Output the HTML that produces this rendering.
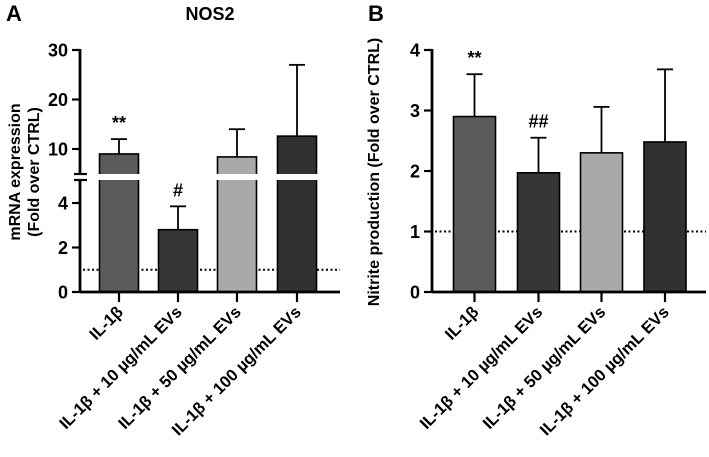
<!DOCTYPE html>
<html><head><meta charset="utf-8"><style>
body{margin:0;background:#fff}
svg{display:block}
svg text{font-family:"Liberation Sans",Arial,sans-serif;font-weight:700}
</style></head><body>
<svg id="c" width="709" height="457" viewBox="0 0 709 457"></svg>
<script>
const categories=["IL-1β","IL-1β + 10 µg/mL EVs","IL-1β + 50 µg/mL EVs","IL-1β + 100 µg/mL EVs"];
const colors=["#5b5b5b","#363636","#a9a9a9","#313131"];
const nosValues=[9,2.8,8.4,12.6];
const nosErrTop=[12,3.85,14,27];
const nosMarks=["**","#","",""];
const nitValues=[2.9,1.97,2.3,2.48];
const nitErrTop=[3.6,2.55,3.06,3.68];
const nitMarks=["**","##","",""];
const nosLowTicks=[0,2,4];
const nosHighTicks=[10,20,30];
const nitTicks=[0,1,2,3,4];
const NS="http://www.w3.org/2000/svg";
const svg=document.getElementById('c');
function el(t,a,p){const e=document.createElementNS(NS,t);for(const k in a)e.setAttribute(k,a[k]);(p||svg).appendChild(e);return e;}
function txt(s,a,p){a['font-weight']='bold';const e=el('text',a,p);e.textContent=s;return e;}
function yA(v){return v<=5?292-v*22.25:149-(v-10)*4.95;}
function yB(v){return 292-v*60.5;}
function panel(name,ax,axEnd,centers,bw,vals,errs,marks,yf){
  const g=el('g',{});
  
  
  vals.forEach((v,i)=>{
    const c=centers[i];
    const el1=el('line',{x1:c,x2:c,y1:yf(v),y2:yf(errs[i]),stroke:'#000','stroke-width':1.8},g);
    
    
    const cap=el('line',{x1:c-8,x2:c+8,y1:yf(errs[i]),y2:yf(errs[i]),stroke:'#000','stroke-width':1.8},g);
    
    
    const r=el('rect',{x:c-bw/2,y:yf(v),width:bw,height:292-yf(v),fill:colors[i],stroke:'#000','stroke-width':1.6},g);
    
    
    if(marks[i]){const m=txt(marks[i],{x:c,y:yf(errs[i])-10,'text-anchor':'middle','font-size':18},g);
      
      }
    const tk=el('line',{x1:c,x2:c,y1:292,y2:302,stroke:'#000','stroke-width':2.2},g);
    
    
    const lb=txt(categories[i],{x:c+5,y:313,'text-anchor':'end','font-size':16.5,transform:`rotate(-45 ${c+5} 313)`},g);
    
    
  });
  const d=el('line',{x1:ax+3,x2:axEnd,y1:yf(1),y2:yf(1),stroke:'#000','stroke-width':2,'stroke-dasharray':'2 2.5'},g);
  
  
  g.insertBefore(d,g.firstChild);
  const xa=el('line',{x1:ax,x2:axEnd,y1:292,y2:292,stroke:'#000','stroke-width':2.8},g);
  
  
  return g;
}
const cA=[119,178,237,297], cB=[474.5,538.5,601.5,665];
panel('panel-a-bars',80,340,cA,39,nosValues,nosErrTop,nosMarks,yA);
const br=el('rect',{x:95,y:174,width:228,height:6,fill:'#fff'});


panel('panel-b-bars',432,706,cB,42,nitValues,nitErrTop,nitMarks,yB);
const ya1=el('line',{x1:80,x2:80,y1:49,y2:174,stroke:'#000','stroke-width':2.8});


const ya2=el('line',{x1:80,x2:80,y1:180,y2:293,stroke:'#000','stroke-width':2.8});


[[74,174],[74,180]].forEach(p=>{const l=el('line',{x1:p[0],x2:87,y1:p[1],y2:p[1],stroke:'#000','stroke-width':2.2});
 
 });
nosLowTicks.concat(nosHighTicks).forEach(v=>{
  const y=yA(v);
  const t=el('line',{x1:72,x2:80,y1:y,y2:y,stroke:'#000','stroke-width':2.2});
  
  
  const l=txt(String(v),{x:68,y:y+6.5,'text-anchor':'end','font-size':18});
  
  
});
const yb=el('line',{x1:432,x2:432,y1:49,y2:293,stroke:'#000','stroke-width':2.8});


nitTicks.forEach(v=>{
  const y=yB(v);
  const t=el('line',{x1:424,x2:432,y1:y,y2:y,stroke:'#000','stroke-width':2.2});
  
  
  const l=txt(String(v),{x:420,y:y+6.5,'text-anchor':'end','font-size':18});
  
  
});
function t(str,a,name){a['font-weight']='bold';const e=el('text',a);e.textContent=str;

}
t('A',{x:6,y:21,'font-size':22},'panel-a-label');
t('B',{x:368,y:21,'font-size':22},'panel-b-label');
t('NOS2',{x:210,y:20,'text-anchor':'middle','font-size':18},'panel-a-title');
t('mRNA expression',{x:20,y:172,'text-anchor':'middle','font-size':16,transform:'rotate(-90 20 172)'},'y-axis-title-a-line1');
t('(Fold over CTRL)',{x:39,y:172,'text-anchor':'middle','font-size':16,transform:'rotate(-90 39 172)'},'y-axis-title-a-line2');
t('Nitrite production (Fold over CTRL)',{x:379,y:172,'text-anchor':'middle','font-size':16,transform:'rotate(-90 379 172)'},'y-axis-title-b');
</script>
</body></html>
